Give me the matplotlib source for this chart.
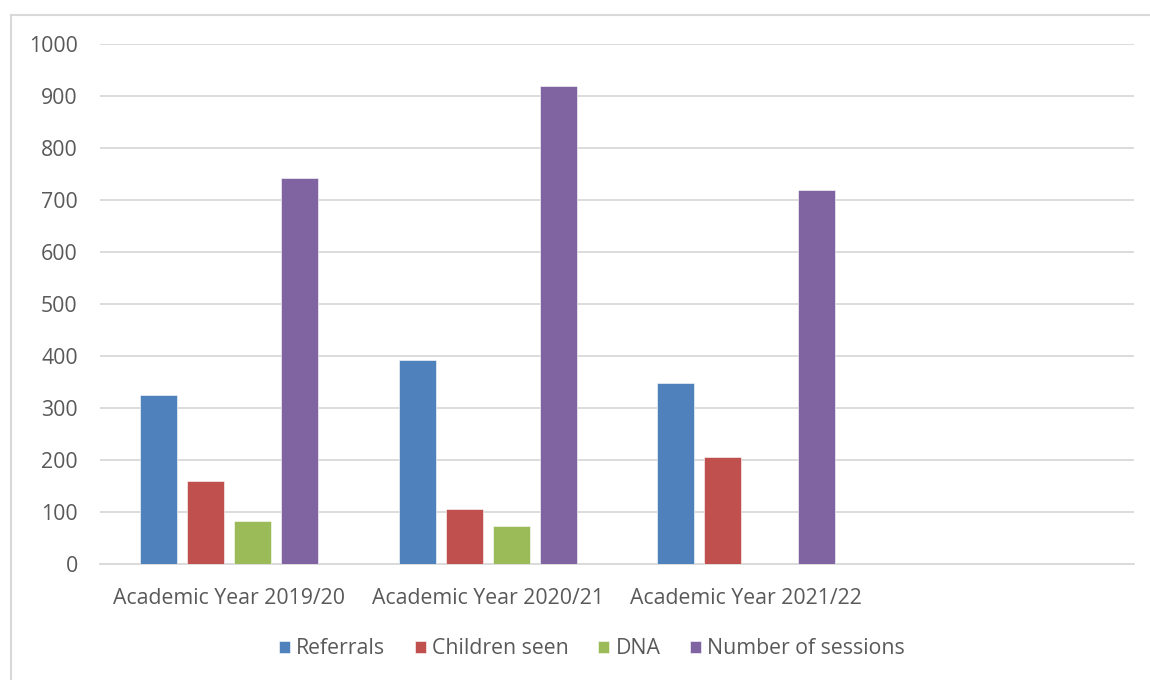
import numpy as np
import matplotlib.pyplot as plt
from matplotlib.lines import Line2D

plt.rcParams['font.family'] = ['Open Sans', 'DejaVu Sans']

years = ['Academic Year 2019/20', 'Academic Year 2020/21', 'Academic Year 2021/22', '']
referrals = [325, 393, 349, 0]
children_seen = [159, 105, 205, 0]
dna = [82, 74, 0, 0]
sessions = [742, 919, 719, 0]

series = [('Referrals', referrals, '#4F81BD'),
          ('Children seen', children_seen, '#C0504D'),
          ('DNA', dna, '#9BBB59'),
          ('Number of sessions', sessions, '#8064A2')]

fig = plt.figure(figsize=(11.5, 6.8), dpi=100)
ax = fig.add_axes([100 / 1150, 1 - 564 / 680, 1034 / 1150, 520 / 680])

x = np.arange(len(years))
step = 0.1816
width = 0.143
for i, (name, vals, col) in enumerate(series):
    ax.bar(x + (i - 1.5) * step, vals, width, color=col, label=name,
           edgecolor='white', linewidth=0.4, zorder=3)

ax.set_xlim(-0.5, 3.5)
ax.set_ylim(0, 1000)
ax.set_yticks(range(0, 1001, 100))
ax.set_xticks(x)
ax.set_xticklabels(years)
ax.grid(axis='y', color='#d9d9d9', linewidth=1.3, zorder=0)
for s in ['top', 'right', 'left']:
    ax.spines[s].set_visible(False)
ax.spines['bottom'].set_color('#d9d9d9')
ax.spines['bottom'].set_linewidth(1.3)
ax.tick_params(axis='both', length=0, labelsize=15.3, labelcolor='#595959')
ax.tick_params(axis='x', pad=17)
ax.tick_params(axis='y', pad=16)

# chart frame
fig.add_artist(Line2D([11 / 1150, 11 / 1150], [0, 1 - 15 / 680], color='#d9d9d9', lw=1.5))
fig.add_artist(Line2D([11 / 1150, 1], [1 - 15 / 680, 1 - 15 / 680], color='#d9d9d9', lw=1.5))

fig.legend(loc='center', bbox_to_anchor=(592 / 1150, 1 - 649 / 680), ncol=4, frameon=False,
           fontsize=15.3, labelcolor='#595959', handlelength=0.5, handleheight=0.5,
           handletextpad=0.3, columnspacing=1.4)

fig.savefig('out.png', dpi=100)
